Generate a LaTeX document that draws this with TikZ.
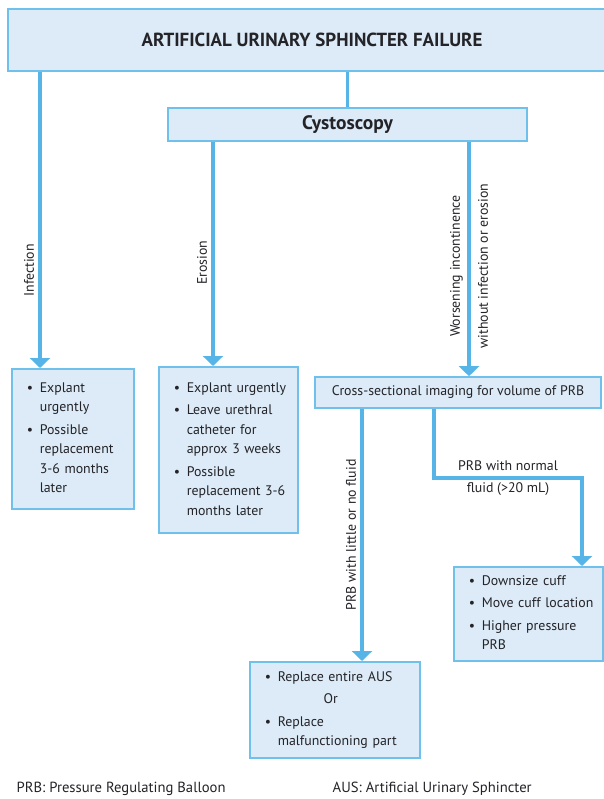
\documentclass[tikz,border=0pt]{standalone}
\usepackage{fontspec}
\setmainfont{PT Sans}
\usetikzlibrary{arrows.meta}
\definecolor{auslink}{RGB}{86,180,230}
\definecolor{ausedge}{RGB}{112,192,236}
\definecolor{ausfill}{RGB}{220,235,247}
\definecolor{austext}{RGB}{35,35,40}
\newcommand{\bul}{\makebox[9.75pt][l]{\textbullet}}

\begin{document}
\begin{tikzpicture}[x=0.75pt, y=-0.75pt,
  every node/.style={font=\fontsize{10.4}{14.6}\selectfont, text=austext},
  box/.style={draw=ausedge, fill=ausfill, line width=1.2pt, inner sep=0pt},
  list/.style={box, anchor=north west, inner xsep=11.25pt, align=left},
  link/.style={draw=auslink, line width=2.3pt, -{Triangle[width=15pt,length=7.5pt]}},
  tag/.style={rotate=90}]
  \useasboundingbox (0,0) rectangle (603,799);

  \node[box, minimum width=456pt, minimum height=46.5pt,
    font=\fontsize{14.2}{16}\selectfont\bfseries] (title) at (312,40)
    {ARTIFICIAL URINARY SPHINCTER FAILURE};
  \node[box, minimum width=269.25pt, minimum height=24.75pt,
    font=\fontsize{14.6}{16}\selectfont\bfseries] (cysto) at (347.5,124.5) {Cystoscopy};
  \node[box, minimum width=214.5pt, minimum height=23.25pt] (img) at (458,392.5)
    {Cross-sectional imaging for volume of PRB};

  \node[list, minimum width=91.5pt, minimum height=105pt, text width=69pt] (infect) at (11,368)
  {\begin{tabular}{@{}l@{}l@{}}
    \bul & Explant\\
         & urgently\\[2.25pt]
    \bul & Possible\\
         & replacement\\
         & 3-6 months\\
         & later
  \end{tabular}};
  \node[list, minimum width=104.25pt, minimum height=124.5pt, text width=81.75pt] (erode) at (158,366)
  {\begin{tabular}{@{}l@{}l@{}}
    \bul & Explant urgently\\[2.25pt]
    \bul & Leave urethral\\
         & catheter for\\
         & approx 3 weeks\\[2.25pt]
    \bul & Possible\\
         & replacement 3-6\\
         & months later
  \end{tabular}};
  \node[list, minimum width=111.75pt, minimum height=70.5pt, text width=89.25pt] (cuff) at (453,566)
  {\begin{tabular}{@{}l@{}l@{}}
    \bul & Downsize cuff\\[2.25pt]
    \bul & Move cuff location\\[2.25pt]
    \bul & Higher pressure\\
         & PRB
  \end{tabular}};
  \node[list, minimum width=127.5pt, minimum height=72pt, text width=105pt] (replace) at (249,661)
  {\begin{tabular}{@{}l@{}l@{}}
    \bul & Replace entire AUS\\[2.25pt]
    \multicolumn{2}{c}{Or}\\[2.25pt]
    \bul & Replace\\
         & malfunctioning part
  \end{tabular}};

  \node[anchor=west, font=\fontsize{11}{14}\selectfont] (prbkey) at (12,789) {PRB: Pressure Regulating Balloon};
  \node[anchor=west, font=\fontsize{11}{14}\selectfont] (auskey) at (328,789) {AUS: Artificial Urinary Sphincter};

  \draw[draw=auslink, line width=2.3pt] (title.south -| cysto.north) -- (cysto.north);
  \draw[link] (title.south -| 40,0) -- (infect.north -| 40,0)
    node[tag, pos=0.67, above] {Infection};
  \draw[link] (cysto.south -| 213,0) -- (erode.north -| 213,0)
    node[tag, pos=0.54, above] {Erosion};
  \draw[link] (cysto.south -| 469,0) -- (img.north -| 469,0)
    node[tag, pos=0.53, align=center, font=\fontsize{10.4}{21}\selectfont]
    {Worsening incontinence\\without infection or erosion};
  \draw[link] (img.south -| 362,0) -- (replace.north -| 362,0)
    node[tag, pos=0.5, above] {PRB with little or no fluid};
  \draw[link] (img.south -| 434,0) |- node[pos=0.75, align=center,
    font=\fontsize{10.4}{16.5}\selectfont] {PRB with normal\\fluid (>20 mL)}
    (582,478) -- (cuff.north -| 582,0);
\end{tikzpicture}
\end{document}
